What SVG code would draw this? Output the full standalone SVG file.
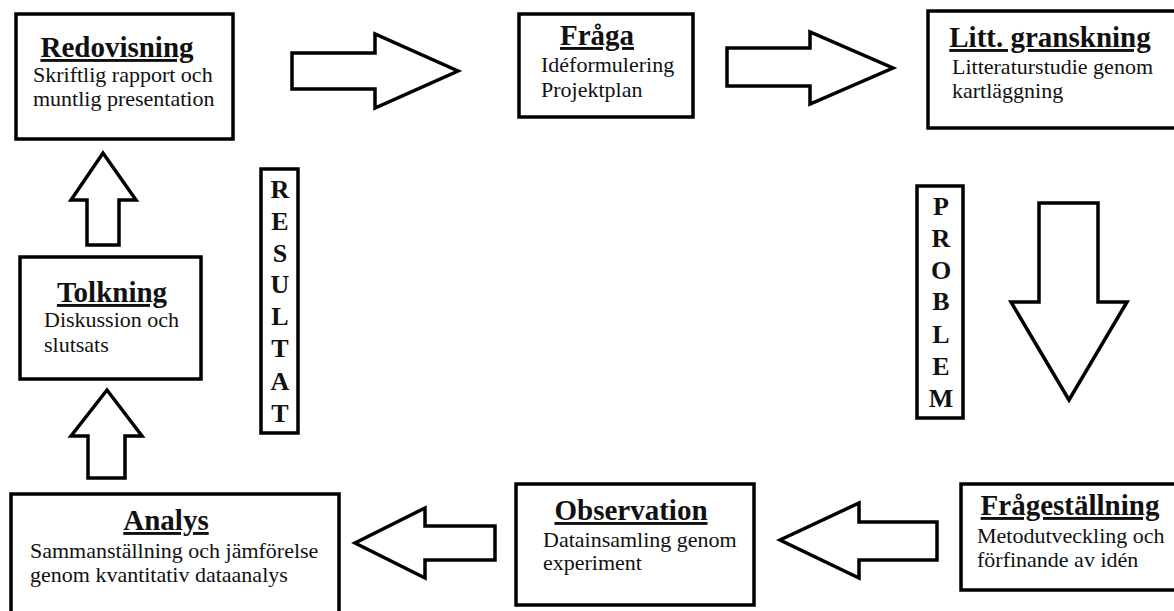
<svg xmlns="http://www.w3.org/2000/svg" width="1174" height="611" viewBox="0 0 1174 611">
<style>
.box{fill:#fff;stroke:#000;stroke-width:3.5}
.arr{fill:#fff;stroke:#000;stroke-width:3.5;stroke-linejoin:miter}
.t{font-family:"Liberation Serif",serif;font-weight:bold;font-size:29px;fill:#111;text-anchor:middle;text-decoration:underline}
.b{font-family:"Liberation Serif",serif;font-size:22px;fill:#111}
.v{font-family:"Liberation Serif",serif;font-weight:bold;font-size:26px;fill:#111;text-anchor:middle}
</style>
<rect width="1174" height="611" fill="#fff"/>
<g id="connectors">
<polygon class="arr" points="292,53 375,53 375,34 458,71 375,108 375,89 292,89"/>
<polygon class="arr" points="727,48 810,48 810,32 893,68 810,104 810,86 727,86"/>
<polygon class="arr" points="1039,203 1098,203 1098,302 1127,302 1069,400 1011,302 1039,302"/>
<polygon class="arr" points="937,522 859,522 859,503 780,540 859,578 859,560 937,560"/>
<polygon class="arr" points="495,526 425,526 425,508 355,543 425,578 425,560 495,560"/>
<polygon class="arr" points="88,478 88,436 71,436 107,390 142,436 125,436 125,478"/>
<polygon class="arr" points="87,245 87,200 71,200 103,153 136,200 119,200 119,245"/>
</g>
<g id="redovisning">
<rect class="box" x="16" y="14" width="217" height="125"/>
<text class="t" x="117" y="57">Redovisning</text>
<text class="b" x="33" y="82">Skriftlig rapport och</text>
<text class="b" x="33" y="106">muntlig presentation</text>
</g>
<g id="fraga">
<rect class="box" x="519" y="14" width="174" height="103"/>
<text class="t" x="597" y="45">Fråga</text>
<text class="b" x="541" y="72">Idéformulering</text>
<text class="b" x="541" y="97">Projektplan</text>
</g>
<g id="litt">
<rect class="box" x="928" y="11" width="252" height="117"/>
<text class="t" x="1050" y="47">Litt. granskning</text>
<text class="b" x="952" y="74">Litteraturstudie genom</text>
<text class="b" x="952" y="98">kartläggning</text>
</g>
<g id="problem">
<rect class="box" x="917" y="186" width="46" height="232"/>
<text class="v" x="941" y="215">P</text>
<text class="v" x="941" y="247">R</text>
<text class="v" x="941" y="279">O</text>
<text class="v" x="941" y="310">B</text>
<text class="v" x="941" y="343">L</text>
<text class="v" x="941" y="375">E</text>
<text class="v" x="941" y="407">M</text>
</g>
<g id="fragestallning">
<rect class="box" x="961" y="484" width="219" height="106"/>
<text class="t" x="1070" y="515">Frågeställning</text>
<text class="b" x="977" y="543">Metodutveckling och</text>
<text class="b" x="977" y="567">förfinande av idén</text>
</g>
<g id="observation">
<rect class="box" x="516" y="484" width="238" height="121"/>
<text class="t" x="631" y="520">Observation</text>
<text class="b" x="543" y="547">Datainsamling genom</text>
<text class="b" x="543" y="570">experiment</text>
</g>
<g id="analys">
<rect class="box" x="11" y="494" width="328" height="126"/>
<text class="t" x="166" y="530">Analys</text>
<text class="b" x="30" y="558">Sammanställning och jämförelse</text>
<text class="b" x="30" y="582">genom kvantitativ dataanalys</text>
</g>
<g id="tolkning">
<rect class="box" x="20" y="257" width="181" height="122"/>
<text class="t" x="112" y="302">Tolkning</text>
<text class="b" x="44" y="327">Diskussion och</text>
<text class="b" x="44" y="352">slutsats</text>
</g>
<g id="resultat">
<rect class="box" x="261" y="169" width="37" height="264"/>
<text class="v" x="280" y="198">R</text>
<text class="v" x="280" y="230">E</text>
<text class="v" x="280" y="262">S</text>
<text class="v" x="280" y="293">U</text>
<text class="v" x="280" y="325">L</text>
<text class="v" x="280" y="357">T</text>
<text class="v" x="280" y="390">A</text>
<text class="v" x="280" y="422">T</text>
</g>
</svg>
